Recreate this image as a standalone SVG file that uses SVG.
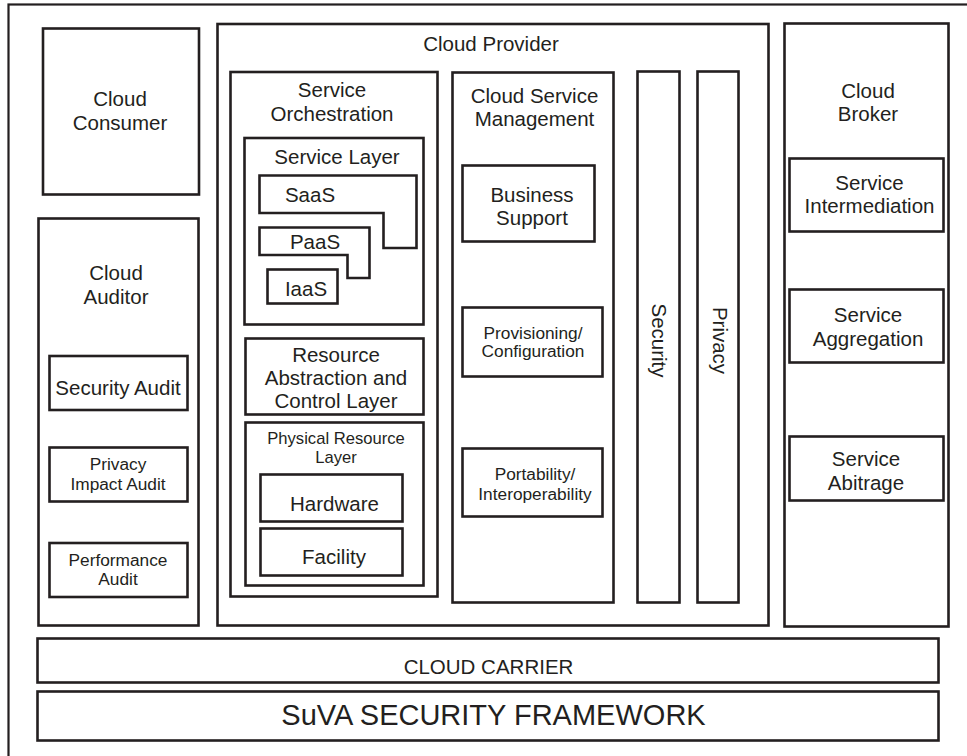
<svg xmlns="http://www.w3.org/2000/svg" width="967" height="756" viewBox="0 0 967 756">
<style>
.b{fill:#fff;stroke:#231f20;stroke-width:2.6}
.o{fill:none;stroke:#231f20;stroke-width:2.2}
text{font-family:"Liberation Sans",Arial,Helvetica,sans-serif;fill:#231f20;text-anchor:middle}
.m{font-size:20.5px}
.s{font-size:17.3px}
.t{font-size:16.6px}
.l{font-size:29px}
</style>
<rect width="967" height="756" fill="#fff"/>
<rect class="o" x="8.5" y="4.5" width="1000" height="800"/>
<g id="connectors"/>
<g id="consumer"><rect class="b" x="43" y="28.5" width="156" height="166"/>
<text class="m" x="120" y="106">Cloud</text><text class="m" x="120" y="129.5">Consumer</text></g>
<g id="auditor"><rect class="b" x="38.5" y="218.5" width="160" height="407"/>
<text class="m" x="116" y="280">Cloud</text><text class="m" x="116" y="304">Auditor</text></g>
<g id="security-audit"><rect class="b" x="49.5" y="356" width="138" height="54"/>
<text class="m" x="118" y="395">Security Audit</text></g>
<g id="privacy-audit"><rect class="b" x="49.5" y="447.5" width="138" height="54"/>
<text class="s" x="118" y="470">Privacy</text><text class="s" x="118" y="489.5">Impact Audit</text></g>
<g id="performance-audit"><rect class="b" x="49.5" y="543" width="138" height="54"/>
<text class="s" x="118" y="566">Performance</text><text class="s" x="118" y="585">Audit</text></g>
<g id="provider"><rect class="b" x="217.5" y="24" width="551" height="601.5"/>
<text class="m" x="491" y="51">Cloud Provider</text></g>
<g id="orchestration"><rect class="b" x="230.5" y="72" width="207" height="524.5"/>
<text class="m" x="332" y="97">Service</text><text class="m" x="332" y="121">Orchestration</text></g>
<g id="service-layer"><rect class="b" x="244.5" y="138" width="179" height="186.5"/>
<text class="m" x="337" y="164">Service Layer</text></g>
<g id="saas"><polygon class="b" points="259.5,175.5 416.5,175.5 416.5,248 383.5,248 383.5,213 259.5,213"/>
<text class="m" x="310" y="202">SaaS</text></g>
<g id="paas"><polygon class="b" points="259.5,227.5 369.5,227.5 369.5,278 347.5,278 347.5,255 259.5,255"/>
<text class="m" x="315" y="248.5">PaaS</text></g>
<g id="iaas"><rect class="b" x="267.5" y="269.5" width="70" height="34"/>
<text class="m" x="306" y="296">IaaS</text></g>
<g id="rac"><rect class="b" x="245.5" y="338.5" width="178" height="76"/>
<text class="m" x="336" y="362">Resource</text><text class="m" x="336" y="384.5">Abstraction and</text><text class="m" x="336" y="407.5">Control Layer</text></g>
<g id="physical"><rect class="b" x="245.5" y="422.5" width="178" height="163"/>
<text class="t" x="336" y="444">Physical Resource</text><text class="t" x="336" y="463">Layer</text></g>
<g id="hardware"><rect class="b" x="260.5" y="474.5" width="142" height="47"/>
<text class="m" x="334.5" y="511">Hardware</text></g>
<g id="facility"><rect class="b" x="260.5" y="528.5" width="142" height="47"/>
<text class="m" x="334" y="563.5">Facility</text></g>
<g id="csm"><rect class="b" x="452.5" y="72.5" width="161" height="530"/>
<text class="m" x="534.5" y="103">Cloud Service</text><text class="m" x="534.5" y="126">Management</text></g>
<g id="business"><rect class="b" x="462.5" y="165.5" width="132" height="76"/>
<text class="m" x="532" y="202">Business</text><text class="m" x="532" y="224.5">Support</text></g>
<g id="provisioning"><rect class="b" x="462.5" y="307.5" width="140" height="69"/>
<text class="s" x="533" y="338.5">Provisioning/</text><text class="s" x="533" y="357">Configuration</text></g>
<g id="portability"><rect class="b" x="462.5" y="448.5" width="140" height="68"/>
<text class="s" x="535" y="479.5">Portability/</text><text class="s" x="535" y="499.5">Interoperability</text></g>
<g id="security"><rect class="b" x="637.5" y="71.5" width="42" height="531"/>
<text class="m" transform="translate(651.5,340.5) rotate(90)">Security</text></g>
<g id="privacy"><rect class="b" x="697.5" y="71.5" width="41" height="531"/>
<text class="m" transform="translate(712.5,340.5) rotate(90)">Privacy</text></g>
<g id="broker"><rect class="b" x="784.5" y="23.5" width="164" height="603"/>
<text class="m" x="868" y="97.5">Cloud</text><text class="m" x="868" y="121">Broker</text></g>
<g id="intermediation"><rect class="b" x="789.5" y="158.5" width="154" height="73"/>
<text class="m" x="869.5" y="189.5">Service</text><text class="m" x="869.5" y="212.5">Intermediation</text></g>
<g id="aggregation"><rect class="b" x="789.5" y="289.5" width="154" height="73"/>
<text class="m" x="868" y="322">Service</text><text class="m" x="868" y="346">Aggregation</text></g>
<g id="abitrage"><rect class="b" x="789.5" y="436.5" width="154" height="64"/>
<text class="m" x="866" y="466">Service</text><text class="m" x="866" y="490">Abitrage</text></g>
<g id="carrier"><rect class="b" x="37.5" y="638.5" width="901" height="44"/>
<text class="m" x="488.5" y="674">CLOUD CARRIER</text></g>
<g id="suva"><rect class="b" x="37.5" y="691.5" width="901" height="49"/>
<text class="l" x="493.5" y="724.5">SuVA SECURITY FRAMEWORK</text></g>
</svg>
